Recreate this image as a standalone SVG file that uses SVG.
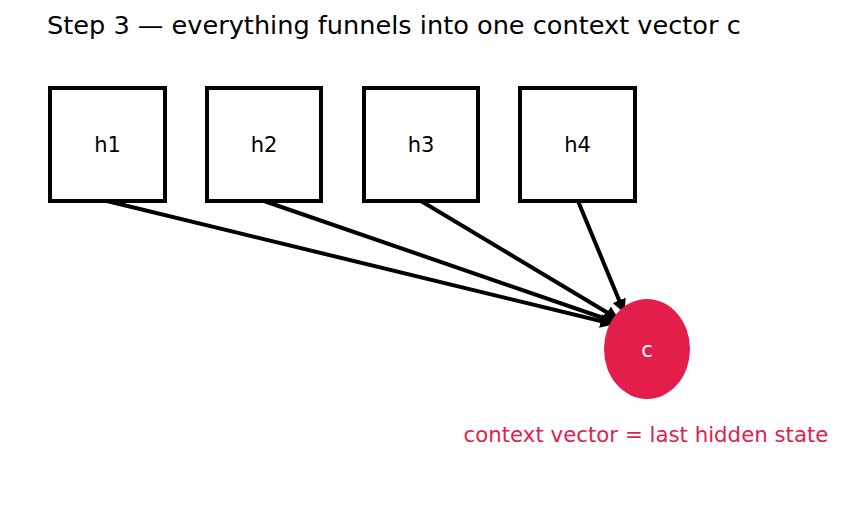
<svg xmlns="http://www.w3.org/2000/svg" width="843" height="512" viewBox="0 0 843 512">
<style>
.box{fill:#fff;stroke:#000;stroke-width:4}
.lbl{font-family:"DejaVu Sans",sans-serif;font-size:21px;text-anchor:middle;fill:#000}
.edge{stroke:#000;stroke-width:4;fill:none;marker-end:url(#ah)}
</style>
<defs>
<marker id="ah" viewBox="0 0 10 10" refX="9" refY="5" markerWidth="3.5" markerHeight="3.5" orient="auto" markerUnits="strokeWidth">
<path d="M0,0 L10,5 L0,10 z" fill="#000"/>
</marker>
</defs>
<rect width="843" height="512" fill="#fff"/>
<text x="47" y="34" font-family="DejaVu Sans, sans-serif" font-size="25.6" fill="#000">Step 3 — everything funnels into one context vector c</text>
<g id="connectors">
<line class="edge" x1="107" y1="201" x2="613" y2="324"/>
<line class="edge" x1="264" y1="201" x2="615" y2="322"/>
<line class="edge" x1="421" y1="201" x2="618" y2="319"/>
<line class="edge" x1="578" y1="201" x2="624" y2="312"/>
</g>
<g id="h1"><rect class="box" x="50" y="88" width="115" height="113"/><text class="lbl" x="107.5" y="152">h1</text></g>
<g id="h2"><rect class="box" x="207" y="88" width="114" height="113"/><text class="lbl" x="264" y="152">h2</text></g>
<g id="h3"><rect class="box" x="364" y="88" width="114" height="113"/><text class="lbl" x="421" y="152">h3</text></g>
<g id="h4"><rect class="box" x="520" y="88" width="115" height="113"/><text class="lbl" x="577.5" y="152">h4</text></g>
<g id="c"><ellipse cx="647" cy="349" rx="43" ry="50" fill="#e31e4a"/><text class="lbl" x="647" y="357" style="fill:#fff">c</text></g>
<text x="646" y="442" font-family="DejaVu Sans, sans-serif" font-size="21.3" fill="#e31e4a" text-anchor="middle">context vector = last hidden state</text>
</svg>
